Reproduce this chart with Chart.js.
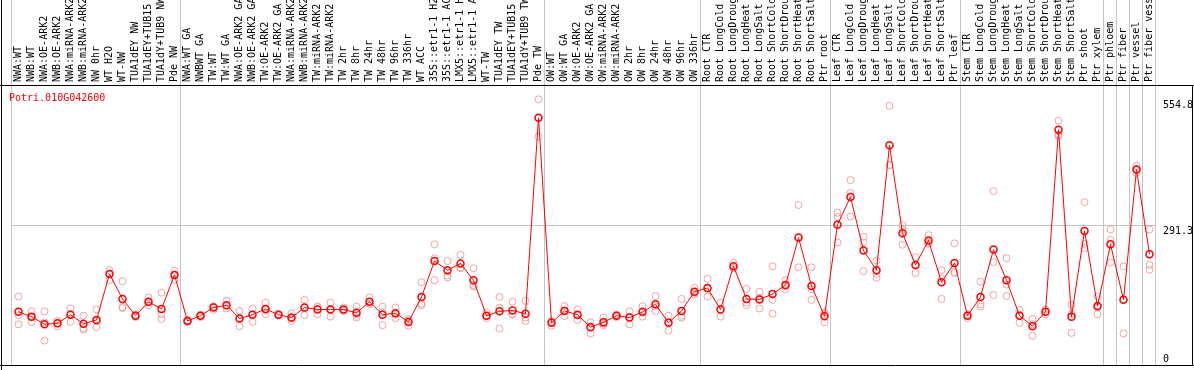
<!DOCTYPE html>
<html>
<head>
<meta charset="utf-8">
<script src="https://cdn.jsdelivr.net/npm/chart.js@4.4.0/dist/chart.umd.min.js"></script>
<style>
  body { margin: 0; background: #fff; }
  #wrap { width: 1194px; height: 370px; }
</style>
</head>
<body>
<div id="wrap"><canvas id="exprChart" width="1194" height="370"></canvas></div>
<script>
const geneName = "Potri.010G042600";

const samples = [
  'NWA:WT', 'NWB:WT', 'NWA:OE-ARK2', 'NWB:OE-ARK2', 'NWA:miRNA-ARK2', 'NWB:miRNA-ARK2', 'NW 0hr', 'WT H2O', 'WT-NW',
  'TUA1dEY NW', 'TUA1dEY+TUB15 NW', 'TUA1dY+TUB9 NW', 'Pde NW',
  'NWA:WT GA', 'NWBWT GA', 'TW:WT', 'TW:WT GA', 'NWA:OE-ARK2 GA', 'NWB:OE-ARK2 GA', 'TW:OE-ARK2', 'TW:OE-ARK2 GA',
  'NWA:miRNA-ARK2 GA', 'NWB:miRNA-ARK2 GA', 'TW:miRNA-ARK2', 'TW:miRNA-ARK2 GA', 'TW 2hr', 'TW 8hr', 'TW 24hr', 'TW 48hr',
  'TW 96hr', 'TW 336hr', 'WT ACC', '35S::etr1-1 H2O', '35S::etr1-1 ACC', 'LMX5::etr1-1 H2O', 'LMX5::etr1-1 ACC', 'WT-TW',
  'TUA1dEY TW', 'TUA1dEY+TUB15 TW', 'TUA1dY+TUB9 TW', 'Pde TW',
  'OW:WT', 'OW:WT GA', 'OW:OE-ARK2', 'OW:OE-ARK2 GA', 'OW:miRNA-ARK2', 'OW:miRNA-ARK2 GA', 'OW 2hr', 'OW 8hr', 'OW 24hr',
  'OW 48hr', 'OW 96hr', 'OW 336hr',
  'Root CTR', 'Root LongCold', 'Root LongDrought', 'Root LongHeat', 'Root LongSalt', 'Root ShortCold', 'Root ShortDrought',
  'Root ShortHeat', 'Root ShortSalt', 'Ptr root',
  'Leaf CTR', 'Leaf LongCold', 'Leaf LongDrought', 'Leaf LongHeat', 'Leaf LongSalt', 'Leaf ShortCold', 'Leaf ShortDrought',
  'Leaf ShortHeat', 'Leaf ShortSalt', 'Ptr leaf',
  'Stem CTR', 'Stem LongCold', 'Stem LongDrought', 'Stem LongHeat', 'Stem LongSalt', 'Stem ShortCold', 'Stem ShortDrought',
  'Stem ShortHeat', 'Stem ShortSalt', 'Ptr shoot', 'Ptr xylem', 'Ptr phloem', 'Ptr fiber', 'Ptr vessel', 'Ptr fiber vessel'
];

// gray separators go before these sample indexes
const groupStarts = [0, 13, 41, 53, 63, 73, 84, 85, 86, 87, 88];

const meanValues = [
  111, 101, 85, 87, 105, 86, 94, 190, 138, 103, 132, 117, 188,
  92, 103, 120, 125, 97, 105, 117, 105, 99, 120, 116, 116, 116, 109, 132, 105, 108, 90, 142, 217, 198, 212, 177, 103, 112, 114, 107, 516,
  88, 113, 105, 79, 89, 103, 99, 111, 127, 88, 113, 153,
  161, 116, 206, 138, 137, 148, 167, 266, 165, 102,
  293, 351, 239, 198, 459, 275, 209, 260, 173, 213,
  103, 142, 241, 177, 103, 81, 111, 491, 101, 280, 123, 252, 136, 408, 231
];

const rep1 = [
  143, 112, 112, 92, 118, 103, 116, 198, 175, 105, 141, 151, 197,
  94, 105, 122, 134, 113, 118, 130, 106, 108, 136, 122, 130, 120, 122, 141, 122, 120, 96, 173, 252, 217, 230, 202, 110, 142, 132, 134, 554.8,
  92, 123, 116, 89, 99, 105, 112, 123, 144, 103, 138, 161,
  180, 130, 213, 159, 153, 206, 177, 334, 204, 110,
  318, 386, 268, 218, 541, 292, 225, 271, 198, 254,
  105, 174, 363, 223, 115, 96, 116, 510, 126, 340, 143, 283, 206, 416, 283
];

const rep2 = [
  85, 90, 51, 81, 90, 77, 79, 177, 119, 100, 125, 96, 178,
  90, 100, 115, 118, 81, 90, 106, 103, 92, 104, 106, 101, 113, 99, 127, 83, 98, 82, 125, 177, 183, 202, 164, 98, 76, 105, 92, 477,
  82, 102, 94, 66, 83, 100, 85, 101, 113, 72, 99, 147,
  143, 101, 202, 125, 118, 107, 158, 204, 136, 89,
  256, 310, 196, 182, 417, 251, 192, 253, 138, 192,
  98, 122, 146, 144, 88, 61, 106, 478, 67, 244, 106, 214, 66, 401, 199
];

const rep3 = [
  104, 100, 89, 87, 106, 74, 92, 190, 121, 103, 131, 106, 188,
  93, 103, 122, 124, 98, 106, 115, 105, 97, 119, 121, 116, 114, 105, 128, 110, 106, 93, 128, 223, 187, 204, 167, 103, 120, 106, 99, 516,
  90, 114, 103, 80, 86, 103, 100, 109, 123, 90, 103, 150,
  159, 116, 203, 130, 140, 136, 165, 266, 158, 106,
  309, 359, 256, 190, 418, 282, 209, 255, 180, 194,
  105, 127, 215, 168, 105, 85, 111, 481, 106, 253, 120, 261, 137, 408, 209
];

const yTicks = [0, 291.3, 554.8];
const yMax = 554.8 * 1.05;

const monoFont = "'DejaVu Sans Mono', 'Liberation Mono', monospace";
const paleRed = '#eea3a3';

function repDataset(values) {
  return {
    data: values,
    showLine: false,
    borderColor: paleRed,
    backgroundColor: 'rgba(0,0,0,0)',
    pointRadius: 3.5,
    pointBorderWidth: 1,
    pointHoverRadius: 3.5
  };
}

// separators, frame, title and right axis numbers
const framePlugin = {
  id: 'frame',
  beforeDatasetsDraw(chart) {
    const ctx = chart.ctx;
    const xs = chart.scales.x;
    const area = chart.chartArea;
    const step = xs.getPixelForValue(1) - xs.getPixelForValue(0);
    ctx.save();
    ctx.strokeStyle = '#c4c4c4';
    ctx.lineWidth = 1;
    groupStarts.forEach(i => {
      const x = Math.round(xs.getPixelForValue(i) - step / 2 - 1) + 0.5;
      ctx.beginPath();
      ctx.moveTo(x, 0);
      ctx.lineTo(x, area.bottom);
      ctx.stroke();
    });
    ctx.restore();
  },
  afterDraw(chart) {
    const ctx = chart.ctx;
    const area = chart.chartArea;
    const ys = chart.scales.y;
    ctx.save();
    ctx.strokeStyle = '#000';
    ctx.lineWidth = 1;
    ctx.beginPath();
    ctx.moveTo(1.5, 0);
    ctx.lineTo(1.5, chart.height);
    ctx.moveTo(0, Math.round(area.top) - 0.5);
    ctx.lineTo(chart.width, Math.round(area.top) - 0.5);
    ctx.moveTo(0, Math.round(area.bottom) + 0.5);
    ctx.lineTo(chart.width, Math.round(area.bottom) + 0.5);
    ctx.moveTo(chart.width - 1.5, area.top);
    ctx.lineTo(chart.width - 1.5, area.bottom);
    ctx.stroke();

    ctx.font = '10px ' + monoFont;
    ctx.fillStyle = '#ff0000';
    ctx.textAlign = 'left';
    ctx.textBaseline = 'middle';
    ctx.fillText(geneName, 9, area.top + 12);

    ctx.fillStyle = '#000';
    yTicks.forEach(v => {
      const y = ys.getPixelForValue(v);
      ctx.textBaseline = v === 0 ? 'bottom' : 'top';
      ctx.fillText(String(v), area.right + 7, v === 0 ? y - 1 : y + 1);
    });
    ctx.restore();
  }
};

const ctx = document.getElementById('exprChart').getContext('2d');
const exprChart = new Chart(ctx, {
  type: 'line',
  data: {
    labels: samples,
    datasets: [
      {
        data: meanValues,
        borderColor: '#ff0000',
        borderWidth: 1,
        backgroundColor: 'rgba(0,0,0,0)',
        pointRadius: 3.5,
        pointBorderWidth: 1.5,
        pointHoverRadius: 3.5,
        tension: 0
      },
      repDataset(rep1),
      repDataset(rep2),
      repDataset(rep3)
    ]
  },
  options: {
    responsive: false,
    animation: false,
    events: [],
    layout: { padding: { left: 12, top: 0, right: 0, bottom: 2 } },
    scales: {
      x: {
        type: 'category',
        position: 'top',
        offset: true,
        grid: { display: false },
        border: { display: false },
        ticks: {
          autoSkip: false,
          minRotation: 90,
          maxRotation: 90,
          padding: -4,
          labelOffset: 12,
          color: '#000',
          font: { family: monoFont, size: 10 }
        },
        afterFit: scale => { scale.height = 86; }
      },
      y: {
        position: 'right',
        min: 0,
        max: yMax,
        afterBuildTicks: scale => { scale.ticks = yTicks.map(v => ({ value: v })); },
        grid: {
          drawTicks: false,
          color: c => (c.tick && c.tick.value === 291.3) ? '#c4c4c4' : 'rgba(0,0,0,0)'
        },
        border: { display: false },
        ticks: { display: false },
        afterFit: scale => { scale.width = 38; }
      }
    },
    plugins: {
      legend: { display: false },
      tooltip: { enabled: false }
    }
  },
  plugins: [framePlugin]
});
</script>
</body>
</html>
